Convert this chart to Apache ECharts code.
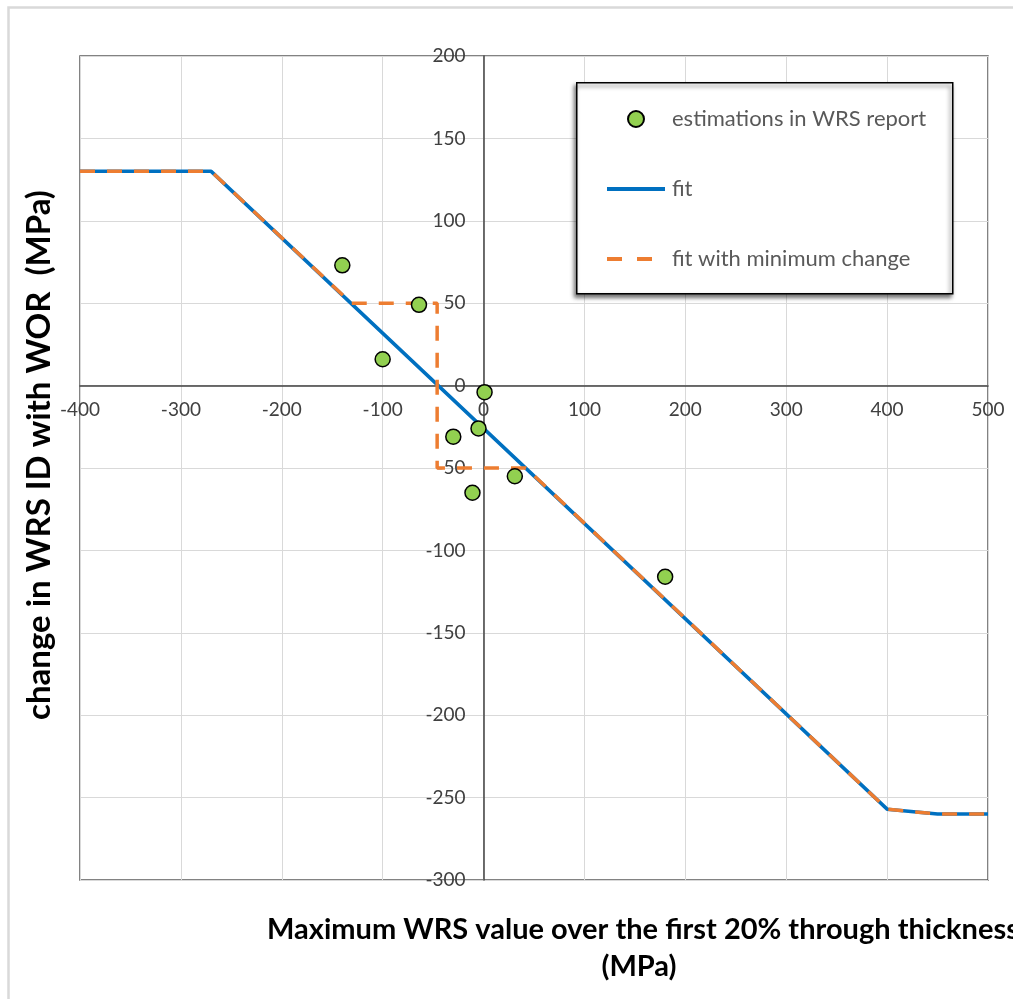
<!DOCTYPE html>
<html>
<head>
<meta charset="utf-8">
<script src="https://cdn.jsdelivr.net/npm/echarts@6/dist/echarts.min.js"></script>
<style>
  html, body { margin: 0; padding: 0; background: #ffffff; }
  #chart { width: 1013px; height: 999px; }
</style>
</head>
<body>
<div id="chart"></div>
<script>
// Estimated points (x: max WRS over first 20% thickness, y: change in WRS ID)
const estX = [-140, -100, -64, 1, -5, -30, 31, -11, 180];
const estY = [73, 16, 49, -4, -26, -31, -55, -65, -116];

// Piecewise-linear fit
const fitX = [-400, -270, 400, 450, 500];
const fitY = [130, 130, -257, -260, -260];

// Fit with a minimum change of +/-50 MPa around the zero crossing
const minX = [-400, -270, -131, -46, -46, 42, 400, 450, 500];
const minY = [130, 130, 50, 50, -50, -50, -257, -260, -260];

const xTicks = { min: -400, max: 500, step: 100 };
const yTicks = { min: -300, max: 200, step: 50 };

const seriesNames = ['estimations in WRS report', 'fit', 'fit with minimum change'];

const zip = (xs, ys) => xs.map((x, i) => [x, ys[i]]);

const chart = echarts.init(document.getElementById('chart'), null, { renderer: 'canvas' });

const labelStyle = { color: '#404040', fontFamily: 'Lato', fontSize: 19 };

chart.setOption({
  animation: false,
  backgroundColor: '#ffffff',
  grid: {
    left: 80, top: 56, right: 25, bottom: 119,
    show: true, borderColor: '#595959', borderWidth: 1.5, backgroundColor: 'transparent'
  },
  xAxis: {
    type: 'value', position: 'bottom',
    min: xTicks.min, max: xTicks.max, interval: xTicks.step,
    axisLine: { onZero: false, lineStyle: { color: '#404040', width: 1.5 } },
    axisTick: { show: false },
    axisLabel: Object.assign({ margin: 15 }, labelStyle),
    splitLine: { show: true, lineStyle: { color: '#d9d9d9', width: 1 } }
  },
  yAxis: {
    type: 'value', position: 'left',
    min: yTicks.min, max: yTicks.max, interval: yTicks.step,
    axisLine: { onZero: false, lineStyle: { color: '#404040', width: 1.5 } },
    axisTick: { show: false },
    axisLabel: Object.assign({ margin: 18 }, labelStyle),
    splitLine: { show: true, lineStyle: { color: '#d9d9d9', width: 1 } }
  },
  legend: {
    orient: 'vertical',
    left: 605, top: 108, padding: 0,
    itemWidth: 58, itemHeight: 16, itemGap: 48,
    textStyle: { color: '#595959', fontFamily: 'Lato', fontSize: 22, padding: [0, 0, 0, 2] },
    data: [
      { name: seriesNames[0], icon: 'circle' },
      { name: seriesNames[1], itemStyle: { opacity: 0 }, lineStyle: { width: 4 } },
      { name: seriesNames[2], itemStyle: { opacity: 0 }, lineStyle: { width: 4, type: [15, 15] } }
    ],
    z: 10
  },
  graphic: [
    // faint outer frame
    { type: 'rect', left: 6, top: 5, silent: true, z: -10,
      shape: { width: 1100, height: 1100 },
      style: { fill: 'none', stroke: '#d9d9d9', lineWidth: 2.5 } },
    // legend box with shadow
    { type: 'rect', left: 576, top: 82, z: 5,
      shape: { width: 376, height: 211 },
      style: { fill: '#ffffff', stroke: '#000000', lineWidth: 1.5,
               shadowColor: 'rgba(0,0,0,0.55)', shadowBlur: 4, shadowOffsetX: -2, shadowOffsetY: 3 } },
    // axis titles
    { type: 'text', x: 39, y: 455, rotation: Math.PI / 2, z: 5,
      style: { text: 'change in WRS ID with WOR  (MPa)', fill: '#000000',
               font: 'bold 33px Lato', align: 'center', verticalAlign: 'middle' } },
    { type: 'text', x: 267, y: 930, z: 5,
      style: { text: 'Maximum WRS value over the first 20% through thickness', fill: '#000000',
               font: 'bold 29px Lato', align: 'left', verticalAlign: 'middle' } },
    { type: 'text', x: 639, y: 967, z: 5,
      style: { text: '(MPa)', fill: '#000000',
               font: 'bold 29px Lato', align: 'center', verticalAlign: 'middle' } }
  ],
  series: [
    {
      name: seriesNames[0], type: 'scatter', z: 4,
      data: zip(estX, estY),
      symbol: 'circle', symbolSize: 15,
      itemStyle: { color: '#92d050', borderColor: '#000000', borderWidth: 1.5, opacity: 1 }
    },
    {
      name: seriesNames[1], type: 'line', z: 2,
      data: zip(fitX, fitY),
      symbol: 'none', showSymbol: false,
      lineStyle: { color: '#0070c0', width: 3.5 },
      itemStyle: { color: '#0070c0' }
    },
    {
      name: seriesNames[2], type: 'line', z: 3,
      data: zip(minX, minY),
      symbol: 'none', showSymbol: false,
      lineStyle: { color: '#ed7d31', width: 3.5, type: [15, 12] },
      itemStyle: { color: '#ed7d31' }
    }
  ]
});

// Move both axes (line and labels) so they cross at the origin.
const origin = chart.convertToPixel({ xAxisIndex: 0, yAxisIndex: 0 }, [0, 0]);
const rect = chart.getModel().getComponent('grid', 0).coordinateSystem.getRect();
chart.setOption({
  xAxis: { offset: -(rect.y + rect.height - origin[1]) },
  yAxis: { offset: -(origin[0] - rect.x) }
});
</script>
</body>
</html>
